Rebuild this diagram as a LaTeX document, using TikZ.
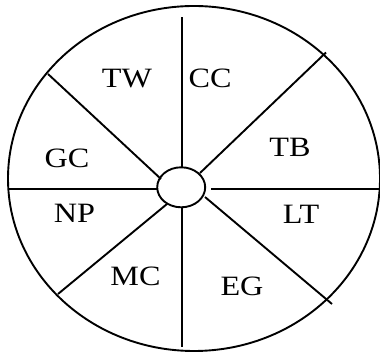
\documentclass[tikz,border=0pt]{standalone}
\usepackage{fontspec}
\setmainfont{Liberation Serif}
\usetikzlibrary{shapes.geometric}
\begin{document}
\begin{tikzpicture}[x=1pt,y=-1pt,
  spoke/.style={line width=1.9pt},
  lbl/.style={anchor=base,inner sep=0pt,font=\fontsize{28}{30}\selectfont,xscale=1.15,transform shape}]
\useasboundingbox (0,0) rectangle (380,352);
\draw[line width=1.9pt] (194,178.5) ellipse [x radius=186, y radius=172.5];
\node[draw,line width=1.9pt,ellipse,minimum width=48pt,minimum height=40pt,inner sep=0pt] (hub) at (181.2,187.3) {};
% spoke end points
\coordinate (upA) at (182,167);   \coordinate (upB) at (182,17);
\coordinate (dnA) at (182,207);   \coordinate (dnB) at (182,347);
\coordinate (lfA) at (158,189);   \coordinate (lfB) at (9,189);
\coordinate (rtA) at (211,189);   \coordinate (rtB) at (380,189);
\coordinate (urA) at (200,173);   \coordinate (urB) at (326,52.5);
\coordinate (ulA) at (161,179);   \coordinate (ulB) at (48,74);
\coordinate (llA) at (167,204);   \coordinate (llB) at (58,294);
\coordinate (lrA) at (205,197);   \coordinate (lrB) at (332,304);
\foreach \s in {up,dn,lf,rt,ur,ul,ll,lr} \draw[spoke] (\s A) -- (\s B);
\node[lbl] (tw) at (127,87.3) {TW};
\node[lbl] (cc) at (210,87.3) {CC};
\node[lbl] (tb) at (290,157) {TB};
\node[lbl] (gc) at (67,168) {GC};
\node[lbl] (np) at (74.5,222.7) {NP};
\node[lbl] (lt) at (301,224) {LT};
\node[lbl] (mc) at (135.5,286) {MC};
\node[lbl] (eg) at (242,296) {EG};
\end{tikzpicture}
\end{document}
